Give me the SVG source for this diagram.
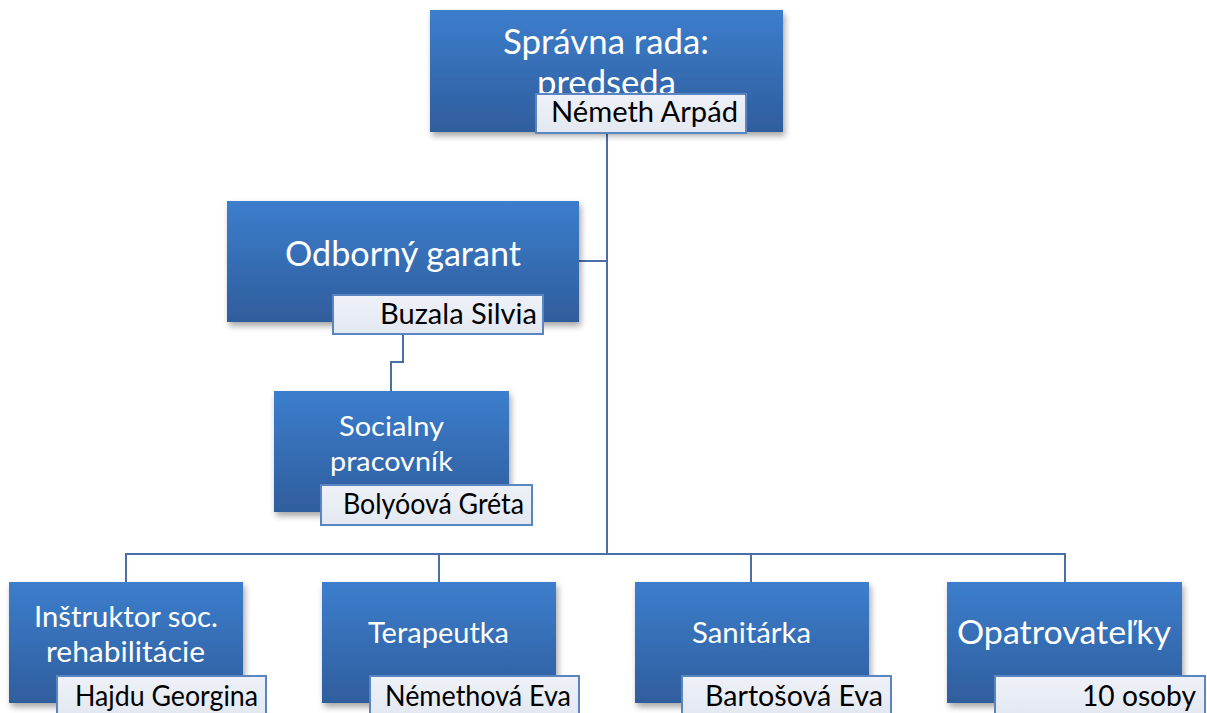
<svg xmlns="http://www.w3.org/2000/svg" width="1207" height="713" viewBox="0 0 1207 713">
<defs>
<linearGradient id="gBox" x1="0" y1="0" x2="0" y2="1">
<stop offset="0" stop-color="#3C7ECD"/>
<stop offset="1" stop-color="#2F5D9C"/>
</linearGradient>
<linearGradient id="gName" x1="0" y1="0" x2="0" y2="1">
<stop offset="0" stop-color="#EEF1F7"/>
<stop offset="1" stop-color="#E3E8F1"/>
</linearGradient>
<filter id="sh" x="-10%" y="-10%" width="125%" height="130%">
<feDropShadow dx="2" dy="4" stdDeviation="3" flood-color="#000" flood-opacity="0.35"/>
</filter>
</defs>
<style>
.box{fill:url(#gBox);filter:url(#sh);}
.name{fill:url(#gName);stroke:#5A85C3;stroke-width:2;}
.t{font-family:Lato,"Liberation Sans",sans-serif;fill:#fff;}
.n{font-family:Lato,"Liberation Sans",sans-serif;fill:#000;font-size:28px;}
.c{fill:none;stroke:#4A6EA8;stroke-width:2;}
</style>
<rect width="1207" height="713" fill="#fff"/>
<g id="connectors">
<path class="c" d="M607 132 V554"/>
<path class="c" d="M579 261 H607"/>
<path class="c" d="M126 582 V554 H1065 V582"/>
<path class="c" d="M439 554 V582"/>
<path class="c" d="M751 554 V582"/>
<path class="c" d="M403 334 V362 H391 V391"/>
</g>
<g id="node-rada">
<rect class="box" x="430" y="10" width="353" height="122"/>
<text class="t" font-size="34" x="503" y="54" textLength="206" lengthAdjust="spacingAndGlyphs">Správna rada:</text>
<text class="t" font-size="34" x="537" y="95" textLength="139" lengthAdjust="spacingAndGlyphs">predseda</text>
<rect class="name" x="536" y="94" width="210" height="39"/>
<text class="n" x="551" y="122" textLength="187" lengthAdjust="spacingAndGlyphs">Németh Arpád</text>
</g>
<g id="node-garant">
<rect class="box" x="227" y="201" width="352" height="121"/>
<text class="t" font-size="35" x="285" y="266" textLength="236" lengthAdjust="spacingAndGlyphs">Odborný garant</text>
<rect class="name" x="333" y="295" width="210" height="39"/>
<text class="n" x="380" y="324" textLength="157" lengthAdjust="spacingAndGlyphs">Buzala Silvia</text>
</g>
<g id="node-socialny">
<rect class="box" x="274" y="391" width="235" height="121"/>
<text class="t" font-size="27" x="339" y="436" textLength="105" lengthAdjust="spacingAndGlyphs">Socialny</text>
<text class="t" font-size="27" x="330" y="471" textLength="123" lengthAdjust="spacingAndGlyphs">pracovník</text>
<rect class="name" x="321" y="485" width="211" height="40"/>
<text class="n" x="343" y="514" textLength="181" lengthAdjust="spacingAndGlyphs">Bolyóová Gréta</text>
</g>
<g id="node-instruktor">
<rect class="box" x="9" y="582" width="234" height="121"/>
<text class="t" font-size="28" x="34" y="627" textLength="184" lengthAdjust="spacingAndGlyphs">Inštruktor soc.</text>
<text class="t" font-size="28" x="46" y="662" textLength="159" lengthAdjust="spacingAndGlyphs">rehabilitácie</text>
<rect class="name" x="57" y="676" width="209" height="40"/>
<text class="n" x="75" y="706" textLength="183" lengthAdjust="spacingAndGlyphs">Hajdu Georgina</text>
</g>
<g id="node-terapeutka">
<rect class="box" x="322" y="582" width="234" height="121"/>
<text class="t" font-size="28" x="368" y="643" textLength="141" lengthAdjust="spacingAndGlyphs">Terapeutka</text>
<rect class="name" x="370" y="676" width="209" height="40"/>
<text class="n" x="385" y="706" textLength="186" lengthAdjust="spacingAndGlyphs">Némethová Eva</text>
</g>
<g id="node-sanitarka">
<rect class="box" x="635" y="582" width="234" height="121"/>
<text class="t" font-size="28" x="692" y="643" textLength="119" lengthAdjust="spacingAndGlyphs">Sanitárka</text>
<rect class="name" x="682" y="676" width="209" height="40"/>
<text class="n" x="705" y="706" textLength="178" lengthAdjust="spacingAndGlyphs">Bartošová Eva</text>
</g>
<g id="node-opatrovatelky">
<rect class="box" x="947" y="582" width="235" height="121"/>
<text class="t" font-size="33" x="957" y="644" textLength="214" lengthAdjust="spacingAndGlyphs">Opatrovateľky</text>
<rect class="name" x="995" y="676" width="210" height="40"/>
<text class="n" x="1082" y="706" textLength="114" lengthAdjust="spacingAndGlyphs">10 osoby</text>
</g>
</svg>
